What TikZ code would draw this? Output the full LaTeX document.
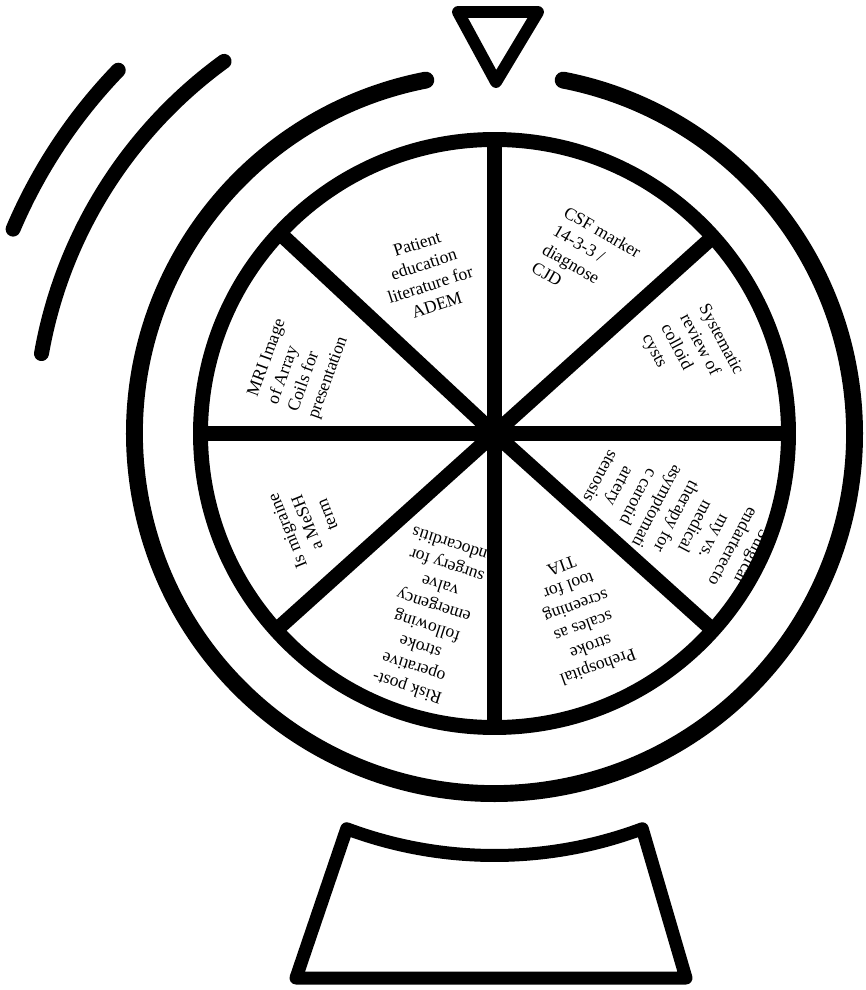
\documentclass[tikz,border=0pt]{standalone}
\usepackage{fontspec}
\setmainfont{Liberation Serif}

\tikzset{
  lbl/.style={font=\fontsize{10}{12.2}\selectfont, align=center, inner sep=0pt},
  lbll/.style={lbl, align=left},
}

\begin{document}
\begin{tikzpicture}[line cap=round,line join=round,x=0.02cm,y=0.02cm]
\useasboundingbox (-494.5,-556.5) rectangle (370.5,433.5);
% motion lines
\draw[line width=8.5pt] (157:523) arc (157:136:523);
\draw[line width=8.5pt] (170:460) arc (170:126:460);
% outer ring, open under the pointer
\draw[line width=9.6pt] (101:360) arc (101:439:360);
% pointer
\draw[line width=6.8pt] (-36.5,421.5) -- (43.5,421.5) -- (1.5,351.5) -- cycle;
% wheel
\draw[line width=8.5pt] (0,0) circle (294);
\foreach \a in {0,42,90,137,180,222,270,318}
  \draw[line width=8.5pt, line cap=butt] (0,0) -- (\a:294);
\fill (0,0) circle (16);
% stand
\draw[line width=7.4pt] (249.5:422) arc (249.5:290.5:422) -- (191.5,-544.5) -- (-198.5,-544.5) -- cycle;
% labels
\node[lbl, rotate=18] (adem) at (-67.5,159) {Patient\\education\\literature for\\ADEM};
\node[lbll, rotate=-30] (cjd) at (92,173.5) {CSF marker\\14-3-3 /\\diagnose\\CJD};
\node[lbll, rotate=-62] (cyst) at (197.5,78.5) {Systematic\\review of\\colloid\\cysts};
\node[lbll, rotate=70] (mri) at (-196,66.5) {MRI Image\\of Array\\Coils for\\presentation};
\node[lbl, rotate=112] (mesh) at (-187.5,-89.5) {Is migraine\\a MeSH\\term};
\node[lbl, rotate=162] (risk) at (-64.5,-183.5) {Risk post-\\operative\\stroke\\following\\emergency\\valve\\surgery for\\endocarditis};
\node[lbl, rotate=200] (tia) at (85.5,-183.5) {Prehospital\\stroke\\scales as\\screening\\tool for\\TIA};
\node[lbl, rotate=242] (cea) at (182.5,-83.5) {Surgical\\endarterecto\\my vs.\\medical\\therapy for\\asymptomati\\c carotid\\artery\\stenosis};
\end{tikzpicture}
\end{document}
